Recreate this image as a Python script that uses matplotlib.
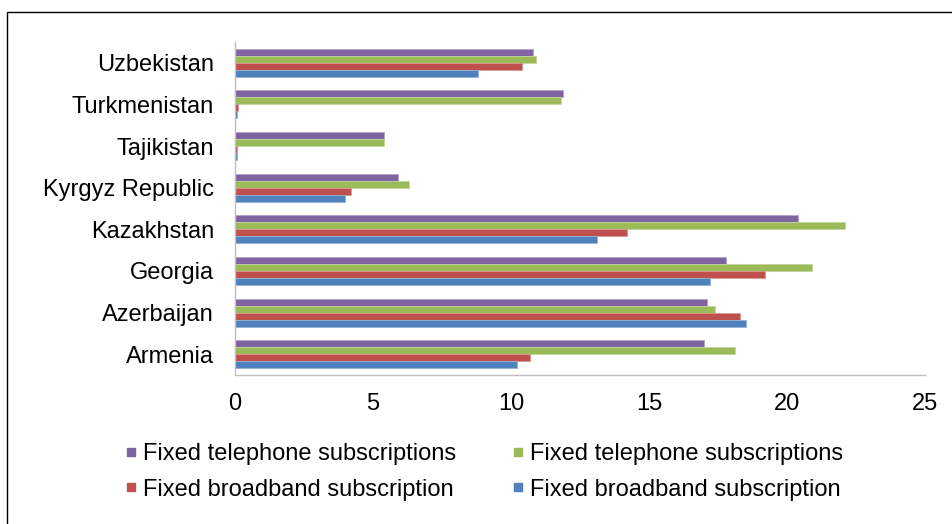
"""Fixed telephone and broadband subscriptions per 100 people, Caucasus and Central Asia."""

import matplotlib

matplotlib.use("Agg")

import matplotlib.pyplot as plt
from matplotlib.lines import Line2D
from matplotlib.patches import Rectangle
import numpy as np

plt.rcParams["font.family"] = ["Liberation Sans", "DejaVu Sans"]

countries = [
    "Armenia",
    "Azerbaijan",
    "Georgia",
    "Kazakhstan",
    "Kyrgyz Republic",
    "Tajikistan",
    "Turkmenistan",
    "Uzbekistan",
]

# series drawn top to bottom inside each country group
telephone_a = [17.0, 17.1, 17.8, 20.4, 5.9, 5.4, 11.9, 10.8]
telephone_b = [18.1, 17.4, 20.9, 22.1, 6.3, 5.4, 11.8, 10.9]
broadband_a = [10.7, 18.3, 19.2, 14.2, 4.2, 0.07, 0.1, 10.4]
broadband_b = [10.2, 18.5, 17.2, 13.1, 4.0, 0.06, 0.06, 8.8]

series_labels = [
    "Fixed telephone subscriptions",
    "Fixed telephone subscriptions",
    "Fixed broadband subscription",
    "Fixed broadband subscription",
]
series_colors = ["#8064A2", "#9BBB59", "#C0504D", "#4F81BD"]
edge_colors = ["#B3A2C7", "#C3D69B", "#D99694", "#95B3D7"]

FONT_SIZE = 17
BAR_H = 0.168


def main() -> None:
    fig = plt.figure(figsize=(9.53, 5.24), dpi=100)
    ax = fig.add_axes([235 / 953, 1 - 375 / 524, 690 / 953, 333 / 524])

    y = np.arange(len(countries))
    all_series = [telephone_a, telephone_b, broadband_a, broadband_b]
    offsets = [1.5, 0.5, -0.5, -1.5]
    for values, off, color, edge, label in zip(all_series, offsets, series_colors, edge_colors, series_labels):
        ax.barh(
            y + off * BAR_H,
            values,
            height=BAR_H,
            color=color,
            edgecolor=edge,
            linewidth=0.6,
            label=label,
        )

    ax.set_xlim(0, 25)
    ax.set_ylim(-0.5, len(countries) - 0.5)
    ax.set_xticks([0, 5, 10, 15, 20, 25])
    ax.set_yticks(y)
    ax.set_yticklabels(countries)
    ax.tick_params(axis="x", length=0, pad=13, labelsize=FONT_SIZE)
    ax.tick_params(axis="y", length=0, pad=15, labelsize=FONT_SIZE)

    for side in ["top", "right"]:
        ax.spines[side].set_visible(False)
    for side in ["left", "bottom"]:
        ax.spines[side].set_color("#BFBFBF")
        ax.spines[side].set_linewidth(1.0)

    handles = [
        Line2D([], [], marker="s", linestyle="none", markersize=6,
               markerfacecolor=c, markeredgecolor=c)
        for c in series_colors
    ]
    # two columns filled column-wise: purple/red on the left, green/blue on the right
    order = [0, 2, 1, 3]
    fig.legend(
        [handles[i] for i in order],
        [series_labels[i] for i in order],
        loc="upper left",
        bbox_to_anchor=(126 / 953, 1 - 443 / 524),
        ncol=2,
        frameon=False,
        fontsize=FONT_SIZE,
        borderpad=0,
        borderaxespad=0,
        handlelength=0.4,
        handletextpad=0.3,
        columnspacing=2.45,
        labelspacing=0.58,
    )

    frame = Rectangle(
        (7 / 953, -0.1),
        1.2,
        1 - 12 / 524 + 0.1,
        transform=fig.transFigure,
        fill=False,
        edgecolor="black",
        linewidth=1.0,
    )
    fig.patches.append(frame)

    fig.savefig("out.png", dpi=100)
    plt.close(fig)


if __name__ == "__main__":
    main()
